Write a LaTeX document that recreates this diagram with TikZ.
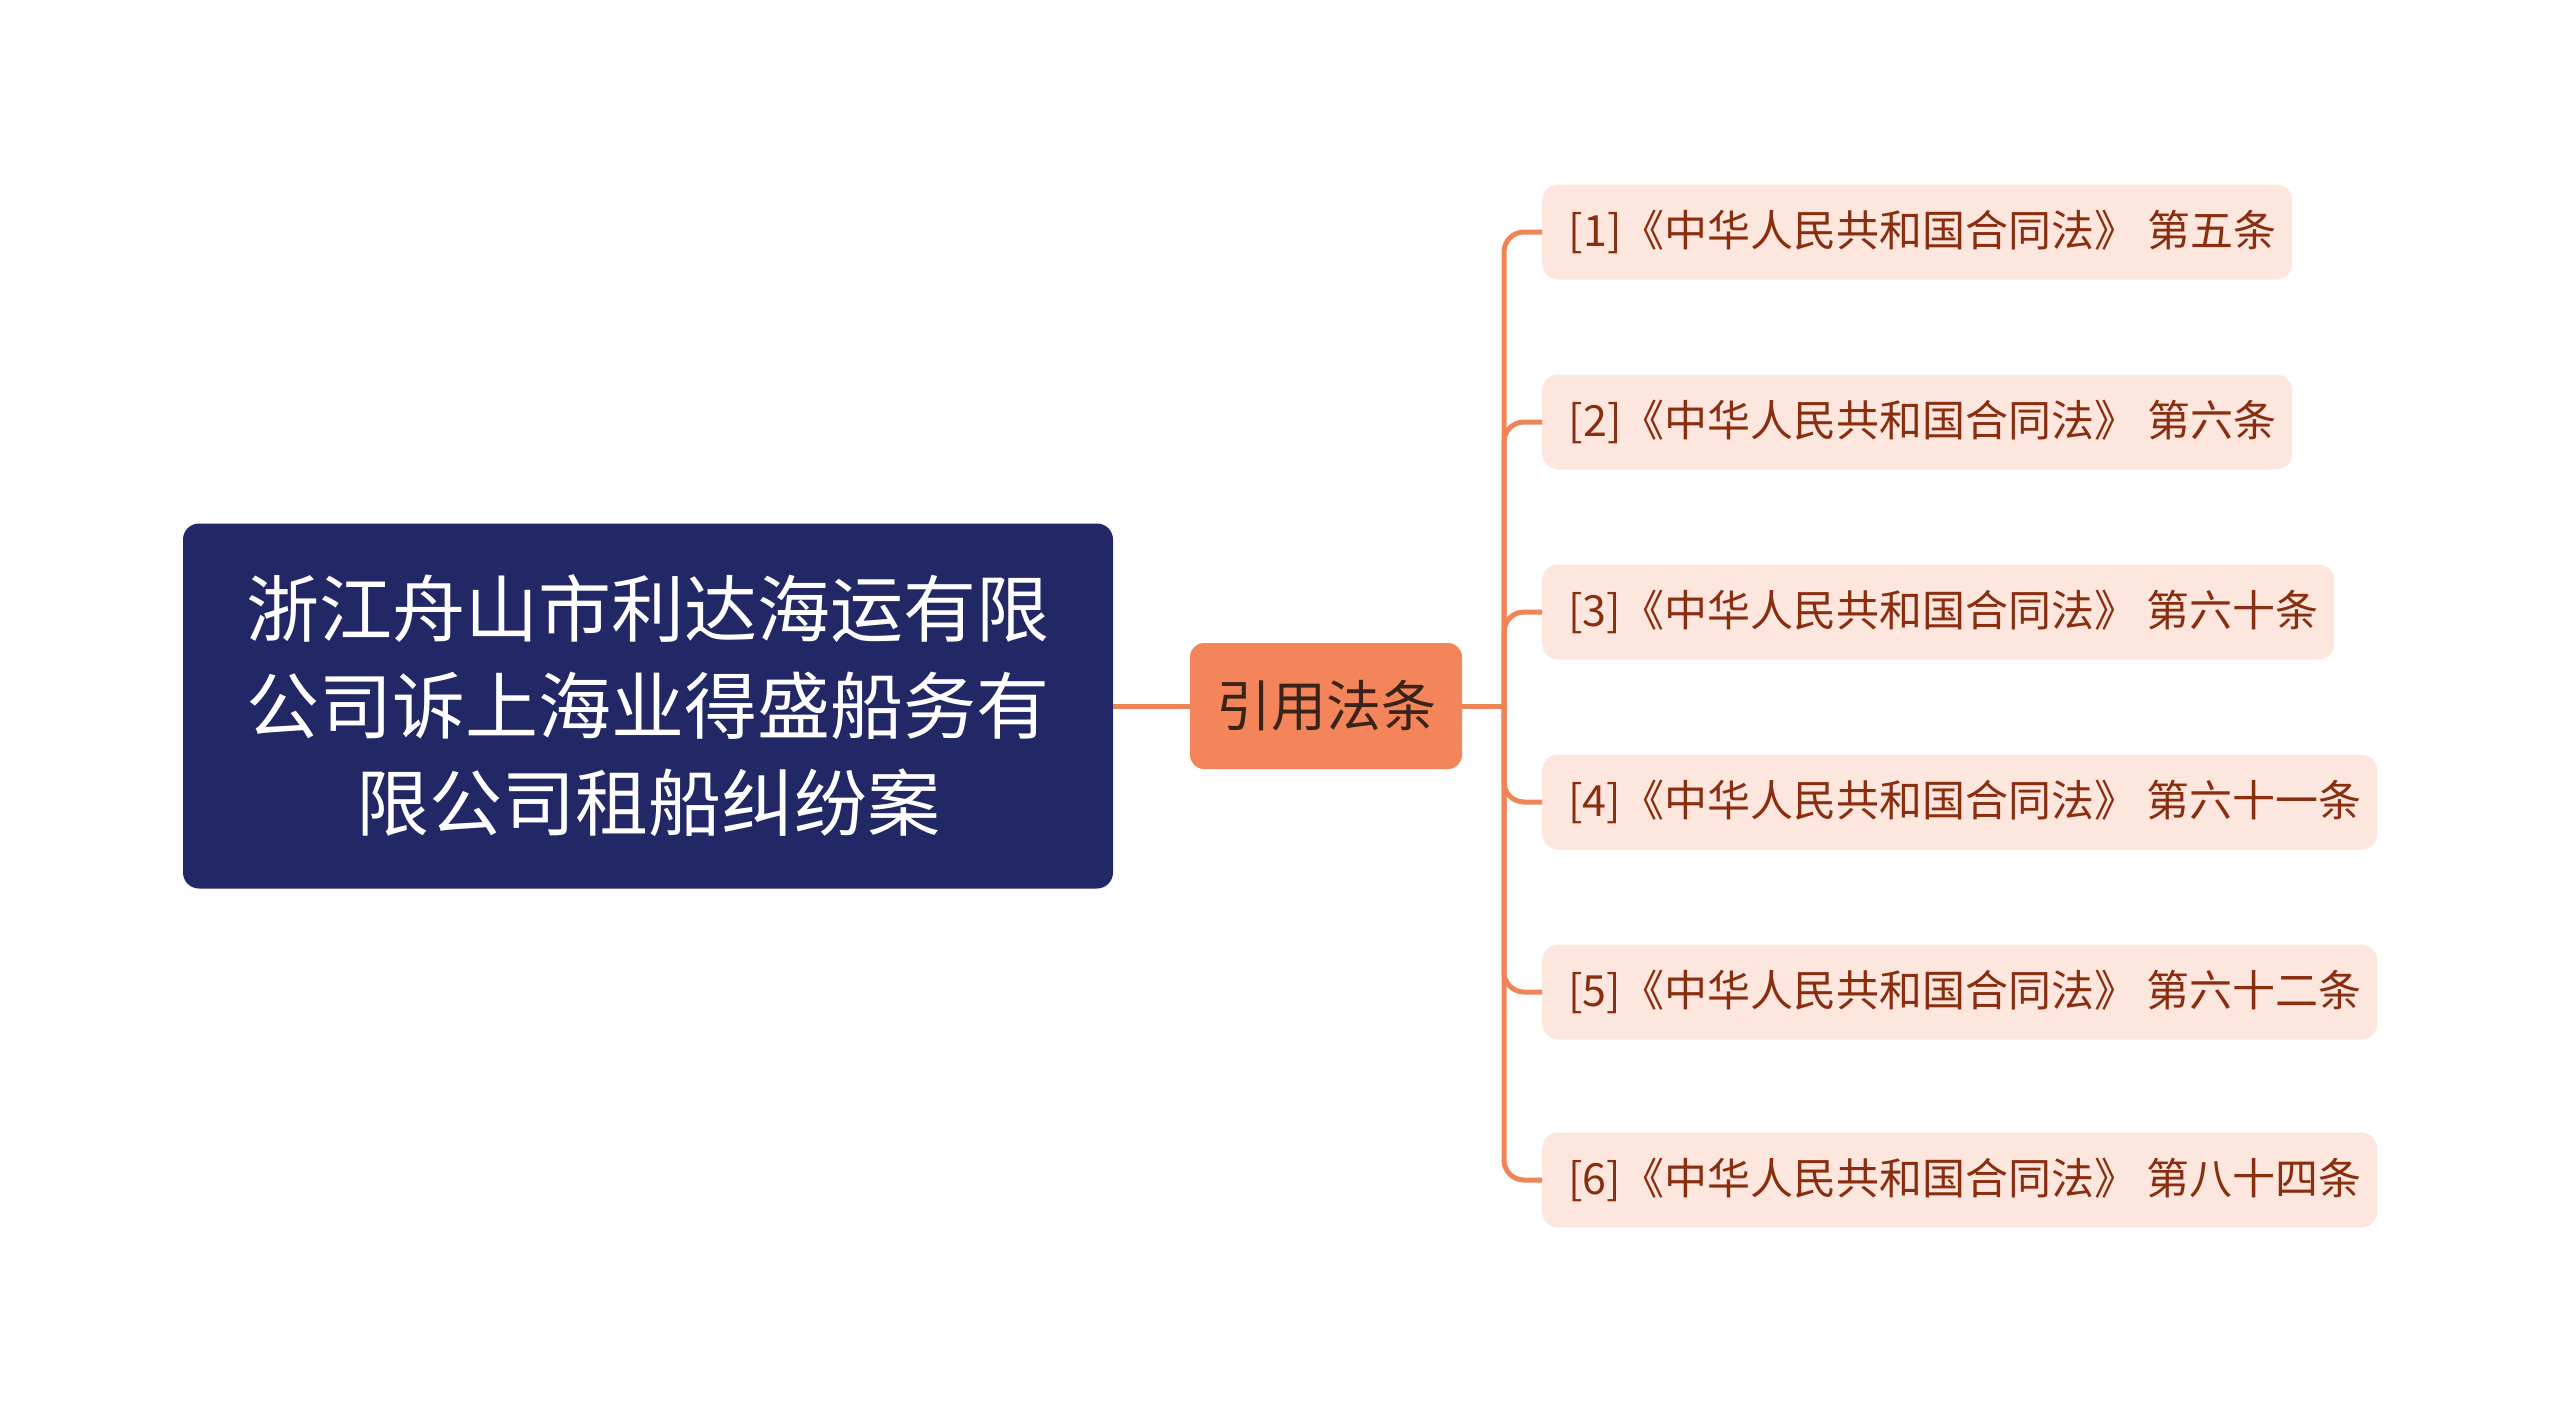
\documentclass[tikz,border=0pt]{standalone}
\usepackage{fontspec}
\setmainfont{Noto Sans CJK SC}
\begin{document}
\begin{tikzpicture}[x=1pt,y=-1pt,
  rootbox/.style={draw=none,fill=rootfill,rounded corners=16pt,minimum width=930pt,minimum height=365pt,
    text=white,font=\fontsize{73}{97}\selectfont,align=center,inner sep=0pt},
  midbox/.style={fill=midfill,rounded corners=14pt,minimum width=272pt,minimum height=126pt,
    text=midtext,font=\fontsize{55}{66}\selectfont,inner sep=0pt},
  leafbox/.style={fill=leaffill,rounded corners=16pt,minimum height=95pt,anchor=west,
    text=leaftext,font=\fontsize{43}{52}\selectfont,inner sep=0pt,align=left},
  link/.style={draw=linkcol,line width=5pt,rounded corners=20pt}]
\definecolor{rootfill}{HTML}{222865}
\definecolor{midfill}{HTML}{F4845A}
\definecolor{midtext}{HTML}{3A2318}
\definecolor{leaffill}{HTML}{FDE6DD}
\definecolor{leaftext}{HTML}{8A2E10}
\definecolor{linkcol}{HTML}{EF8456}
\useasboundingbox (0,0) rectangle (2560,1409);
\node[rootbox] (r) at (648,706) {浙江舟山市利达海运有限\\公司诉上海业得盛船务有\\限公司租船纠纷案};
\node[midbox] (m) at (1326,706) {引用法条};
\coordinate (t) at (1504,706);
\node[leafbox,minimum width=750pt] (c1) at (1542,232) {\hspace*{11pt}[1]《中华人民共和国合同法》 第五条\hfill};
\node[leafbox,minimum width=750pt] (c2) at (1542,422) {\hspace*{11pt}[2]《中华人民共和国合同法》 第六条\hfill};
\node[leafbox,minimum width=792pt] (c3) at (1542,612) {\hspace*{11pt}[3]《中华人民共和国合同法》 第六十条\hfill};
\node[leafbox,minimum width=835pt] (c4) at (1542,802) {\hspace*{11pt}[4]《中华人民共和国合同法》 第六十一条\hfill};
\node[leafbox,minimum width=835pt] (c5) at (1542,992) {\hspace*{11pt}[5]《中华人民共和国合同法》 第六十二条\hfill};
\node[leafbox,minimum width=835pt] (c6) at (1542,1180) {\hspace*{11pt}[6]《中华人民共和国合同法》 第八十四条\hfill};
\draw[link] (r.east) -- (m.west);
\draw[link] (m.east) -- (t);
\foreach \c in {c1,c2,c3,c4,c5,c6}{
  \draw[link] (t) |- (\c.west);
}
\end{tikzpicture}
\end{document}
